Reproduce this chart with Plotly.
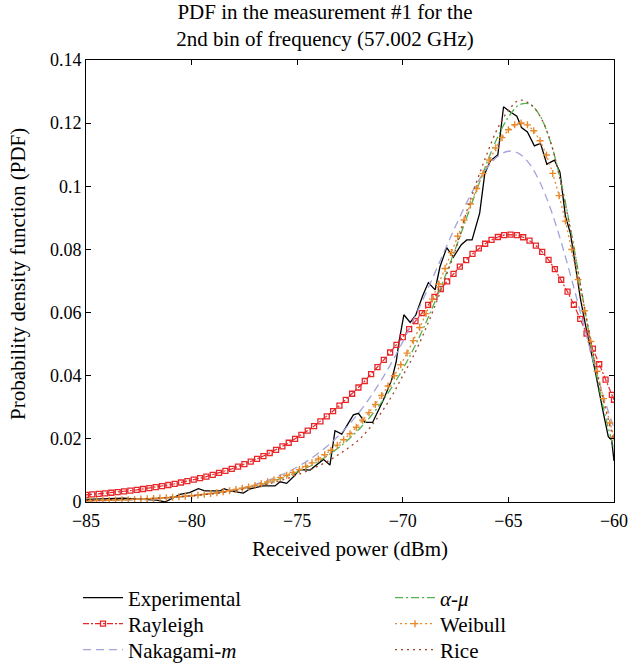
import plotly.graph_objects as go

# ---------------- data ----------------
exp_x = [-85.00, -84.50, -84.00, -83.50, -83.20, -82.50, -82.00, -81.65, -81.26, -80.90,
         -80.55, -80.10, -79.68, -79.37, -78.66, -78.47, -78.18, -77.55, -77.23, -76.60,
         -76.05, -75.81, -75.50, -75.18, -74.87, -74.39, -73.76, -73.45, -73.21, -72.89,
         -72.34, -72.10, -71.79, -71.43, -70.92, -70.53, -70.31, -70.19, -69.95, -69.65,
         -69.38, -69.05, -68.79, -68.47, -68.24, -67.92, -67.61, -67.23, -66.97, -66.72,
         -66.36, -66.12, -65.86, -65.50, -65.23, -64.92, -64.60, -64.38, -64.10, -63.77,
         -63.48, -63.18, -62.82, -62.56, -62.30, -62.06, -61.82, -61.58, -61.29, -60.90,
         -60.50, -60.27, -60.11, -60.00]
exp_y = [0.0008, 0.0009, 0.0010, 0.0011, 0.0012, 0.0009, 0.0007, 0.0006, 0.0000, 0.0012,
         0.0024, 0.0030, 0.0042, 0.0035, 0.0035, 0.0042, 0.0035, 0.0028, 0.0042, 0.0051,
         0.0051, 0.0064, 0.0059, 0.0080, 0.0103, 0.0101, 0.0135, 0.0117, 0.0226, 0.0215,
         0.0276, 0.0281, 0.0252, 0.0252, 0.0323, 0.0386, 0.0445, 0.0503, 0.0593, 0.0569,
         0.0593, 0.0655, 0.0695, 0.0672, 0.0745, 0.0806, 0.0775, 0.0815, 0.0830, 0.0830,
         0.0915, 0.1040, 0.1080, 0.1100, 0.1252, 0.1236, 0.1222, 0.1186, 0.1172, 0.1128,
         0.1136, 0.1070, 0.1083, 0.1045, 0.0905, 0.0850, 0.0750, 0.0640, 0.0540, 0.0418,
         0.0281, 0.0207, 0.0196, 0.0130]

ray_x = [-85.0, -84.7, -84.4, -84.1, -83.8, -83.5, -83.2, -82.9, -82.6, -82.3,
         -82.0, -81.7, -81.4, -81.1, -80.8, -80.5, -80.2, -79.9, -79.6, -79.3,
         -79.0, -78.7, -78.4, -78.1, -77.8, -77.5, -77.2, -76.9, -76.6, -76.3,
         -76.0, -75.7, -75.4, -75.1, -74.8, -74.5, -74.2, -73.9, -73.6, -73.3,
         -73.0, -72.7, -72.4, -72.1, -71.8, -71.5, -71.2, -70.9, -70.6, -70.3,
         -70.0, -69.7, -69.4, -69.1, -68.8, -68.5, -68.2, -67.9, -67.6, -67.3,
         -67.0, -66.7, -66.4, -66.1, -65.8, -65.5, -65.2, -64.9, -64.6, -64.3,
         -64.0, -63.7, -63.4, -63.1, -62.8, -62.5, -62.2, -61.9, -61.6, -61.3,
         -61.0, -60.7, -60.4, -60.1, -60.0]
ray_y = [0.00223, 0.00239, 0.00256, 0.00274, 0.00293, 0.00314, 0.00336, 0.00359, 0.00384, 0.00412,
         0.00440, 0.00471, 0.00504, 0.00539, 0.00577, 0.00617, 0.00660, 0.00706, 0.00754, 0.00806,
         0.00862, 0.00921, 0.00984, 0.01051, 0.01122, 0.01198, 0.01278, 0.01364, 0.01455, 0.01552,
         0.01654, 0.01762, 0.01877, 0.01999, 0.02127, 0.02263, 0.02405, 0.02556, 0.02714, 0.02880,
         0.03055, 0.03237, 0.03428, 0.03626, 0.03833, 0.04048, 0.04270, 0.04499, 0.04735, 0.04977,
         0.05224, 0.05475, 0.05730, 0.05985, 0.06242, 0.06496, 0.06746, 0.06991, 0.07228, 0.07453,
         0.07664, 0.07858, 0.08031, 0.08180, 0.08302, 0.08394, 0.08451, 0.08471, 0.08450, 0.08386,
         0.08279, 0.08123, 0.07921, 0.07672, 0.07377, 0.07039, 0.06661, 0.06247, 0.05803, 0.05337,
         0.04855, 0.04363, 0.03875, 0.03395, 0.03238]

wei_x = [-85.0, -84.8, -84.5, -84.2, -83.9, -83.6, -83.3, -83.0, -82.7, -82.4, -82.1,
         -81.8, -81.5, -81.2, -80.9, -80.6, -80.3, -80.0, -79.7, -79.4, -79.1,
         -78.8, -78.5, -78.2, -77.9, -77.6, -77.3, -77.0, -76.7, -76.4, -76.1,
         -75.8, -75.5, -75.2, -74.9, -74.6, -74.3, -74.0, -73.7, -73.4, -73.1,
         -72.8, -72.5, -72.2, -71.9, -71.6, -71.3, -71.0, -70.7, -70.4, -70.1,
         -69.8, -69.5, -69.2, -68.9, -68.6, -68.3, -68.0, -67.7, -67.4, -67.1,
         -66.8, -66.5, -66.2, -65.9, -65.6, -65.3, -65.0, -64.7, -64.4, -64.1,
         -63.8, -63.5, -63.2, -62.9, -62.6, -62.3, -62.0, -61.7, -61.4, -61.1,
         -60.8, -60.5, -60.2, -60.0]
wei_y = [0.00039, 0.00042, 0.00046, 0.00051, 0.00056, 0.00062, 0.00068, 0.00075, 0.00083, 0.00092, 0.00101,
         0.00111, 0.00123, 0.00135, 0.00149, 0.00164, 0.00181, 0.00200, 0.00220, 0.00243, 0.00267,
         0.00294, 0.00325, 0.00358, 0.00394, 0.00434, 0.00478, 0.00526, 0.00579, 0.00638, 0.00702,
         0.00772, 0.00849, 0.00934, 0.01027, 0.01129, 0.01240, 0.01362, 0.01496, 0.01641, 0.01800,
         0.01973, 0.02162, 0.02367, 0.02589, 0.02830, 0.03090, 0.03371, 0.03674, 0.03999, 0.04346,
         0.04717, 0.05111, 0.05528, 0.05967, 0.06426, 0.06905, 0.07398, 0.07904, 0.08417, 0.08931,
         0.09438, 0.09932, 0.10400, 0.10832, 0.11217, 0.11540, 0.11789, 0.11948, 0.12004, 0.11946,
         0.11760, 0.11442, 0.10993, 0.10408, 0.09704, 0.08897, 0.07999, 0.07043, 0.06059, 0.05082,
         0.04143, 0.03275, 0.02503, 0.02052]

grid_x = [-85.0, -84.5, -84.0, -83.5, -83.0, -82.5, -82.0, -81.5, -81.0, -80.5,
          -80.0, -79.5, -79.0, -78.5, -78.0, -77.5, -77.0, -76.5, -76.0, -75.5,
          -75.0, -74.5, -74.0, -73.5, -73.0, -72.5, -72.0, -71.5, -71.0, -70.5,
          -70.0, -69.5, -69.0, -68.5, -68.0, -67.5, -67.0, -66.5, -66.0, -65.5,
          -65.0, -64.5, -64.0, -63.5, -63.0, -62.5, -62.0, -61.5, -61.0, -60.5, -60.0]
nak_y = [0.00031, 0.00037, 0.00044, 0.00053, 0.00064, 0.00077, 0.00092, 0.00111, 0.00133, 0.00160,
         0.00191, 0.00229, 0.00274, 0.00328, 0.00391, 0.00467, 0.00557, 0.00663, 0.00788, 0.00935,
         0.01108, 0.01310, 0.01544, 0.01816, 0.02129, 0.02489, 0.02898, 0.03360, 0.03877, 0.04451,
         0.05079, 0.05758, 0.06479, 0.07230, 0.07991, 0.08741, 0.09450, 0.10080, 0.10595, 0.10950,
         0.11109, 0.11036, 0.10707, 0.10117, 0.09280, 0.08232, 0.07036, 0.05768, 0.04510, 0.03346, 0.02338]
amu_y = [0.00042, 0.00049, 0.00057, 0.00067, 0.00078, 0.00091, 0.00107, 0.00125, 0.00146, 0.00170,
         0.00199, 0.00233, 0.00272, 0.00318, 0.00372, 0.00435, 0.00508, 0.00594, 0.00693, 0.00809,
         0.00945, 0.01102, 0.01285, 0.01497, 0.01743, 0.02027, 0.02354, 0.02731, 0.03163, 0.03654,
         0.04212, 0.04839, 0.05538, 0.06308, 0.07142, 0.08033, 0.08958, 0.09887, 0.10778, 0.11573,
         0.12189, 0.12571, 0.12607, 0.12226, 0.11391, 0.10103, 0.08440, 0.06554, 0.04660, 0.02977, 0.01667]
rice_y = [0.0005, 0.0006, 0.0007, 0.0008, 0.0009, 0.0010, 0.0011, 0.0013, 0.0015, 0.0017,
          0.0020, 0.0023, 0.0026, 0.0030, 0.0035, 0.0041, 0.0047, 0.0055, 0.0064, 0.0074,
          0.0086, 0.0099, 0.0114, 0.0131, 0.0152, 0.0175, 0.0202, 0.0240, 0.0285, 0.0338,
          0.0400, 0.0462, 0.0535, 0.0617, 0.0707, 0.0800, 0.0915, 0.1015, 0.1105, 0.1185,
          0.1240, 0.1272, 0.1262, 0.1222, 0.1140, 0.1005, 0.0840, 0.0655, 0.0475, 0.0320, 0.0195]

x_ticks = [-85, -80, -75, -70, -65, -60]
y_ticks = [0, 0.02, 0.04, 0.06, 0.08, 0.1, 0.12, 0.14]

FONT = "Liberation Serif"
C_RAY = "#e8262a"
C_NAK = "#a3a3dc"
C_AMU = "#4fb24f"
C_WEI = "#e8892c"
C_RICE = "#a2452c"

fig = go.Figure()
fig.add_trace(go.Scatter(x=exp_x, y=exp_y, name="Experimental", mode="lines",
                         line=dict(color="black", width=1.3), legend="legend"))
fig.add_trace(go.Scatter(x=ray_x, y=ray_y, name="Rayleigh", mode="lines+markers",
                         line=dict(color=C_RAY, width=1.2, dash="6px,2px,2px,2px"),
                         marker=dict(symbol="square-open", size=5, color=C_RAY, line=dict(width=1.3)),
                         legend="legend2"))
fig.add_trace(go.Scatter(x=grid_x, y=nak_y, name="Nakagami-<i>m</i>", mode="lines",
                         line=dict(color=C_NAK, width=1.3, dash="8px,5px", shape="spline"),
                         legend="legend3"))
fig.add_trace(go.Scatter(x=grid_x, y=amu_y, name="<i>α</i>-<i>μ</i>", mode="lines",
                         line=dict(color=C_AMU, width=1.3, dash="8px,3px,2px,3px", shape="spline"),
                         legend="legend4"))
fig.add_trace(go.Scatter(x=wei_x, y=wei_y, name="Weibull", mode="lines+markers",
                         line=dict(color=C_WEI, width=1.3, dash="2px,3px"),
                         marker=dict(symbol="cross-thin", size=5, color=C_WEI, line=dict(width=1.4, color=C_WEI)),
                         legend="legend5"))
fig.add_trace(go.Scatter(x=grid_x, y=rice_y, name="Rice", mode="lines",
                         line=dict(color=C_RICE, width=1.3, dash="2px,4px", shape="spline"),
                         legend="legend6"))

axis_common = dict(showgrid=False, zeroline=False, showline=True, linecolor="black", linewidth=1,
                   mirror="allticks", ticks="inside", ticklen=5, tickcolor="black", automargin=True,
                   tickfont=dict(family=FONT, size=18, color="black"))

W, H = 630, 665
PLOT_L, PLOT_T, PLOT_W, PLOT_H = 86, 60, 528, 442


def leg(px_left, py_center):
    return dict(x=px_left / W, xref="container", xanchor="left",
                y=1 - py_center / H, yref="container", yanchor="middle",
                orientation="v", font=dict(family=FONT, size=21, color="black"),
                itemwidth=40, bgcolor="rgba(0,0,0,0)", borderwidth=0)


fig.update_layout(
    width=W, height=H,
    margin=dict(l=PLOT_L, r=W - PLOT_L - PLOT_W, t=PLOT_T, b=H - PLOT_T - PLOT_H, autoexpand=False),
    paper_bgcolor="white", plot_bgcolor="white",
    font=dict(family=FONT, color="black"),
    title=dict(text="PDF in the measurement #1 for the<br>2nd bin of frequency (57.002 GHz)",
               x=325 / W, xref="container", xanchor="center",
               y=1 - 19 / H, yref="container", yanchor="middle",
               font=dict(family=FONT, size=21, color="black")),
    xaxis=dict(range=[-85, -60], tickvals=x_ticks, ticklabelstandoff=2,
               title=dict(text="Received power (dBm)", font=dict(family=FONT, size=21), standoff=11),
               **axis_common),
    yaxis=dict(range=[0, 0.14], tickvals=y_ticks, **axis_common),
    annotations=[dict(text="Probability density function (PDF)", textangle=-90,
                      xref="paper", yref="paper",
                      x=(18 - PLOT_L) / PLOT_W, y=(PLOT_T + PLOT_H - 274) / PLOT_H,
                      xanchor="center", yanchor="middle", showarrow=False,
                      font=dict(family=FONT, size=21, color="black"))],
    showlegend=True,
    legend=leg(78, 598),
    legend2=leg(78, 624),
    legend3=leg(78, 650),
    legend4=leg(390, 598),
    legend5=leg(390, 624),
    legend6=leg(390, 650),
)

fig.write_html("out.html", config={"displayModeBar": False},
               post_script="document.body.style.margin='0';document.body.style.padding='0';")
